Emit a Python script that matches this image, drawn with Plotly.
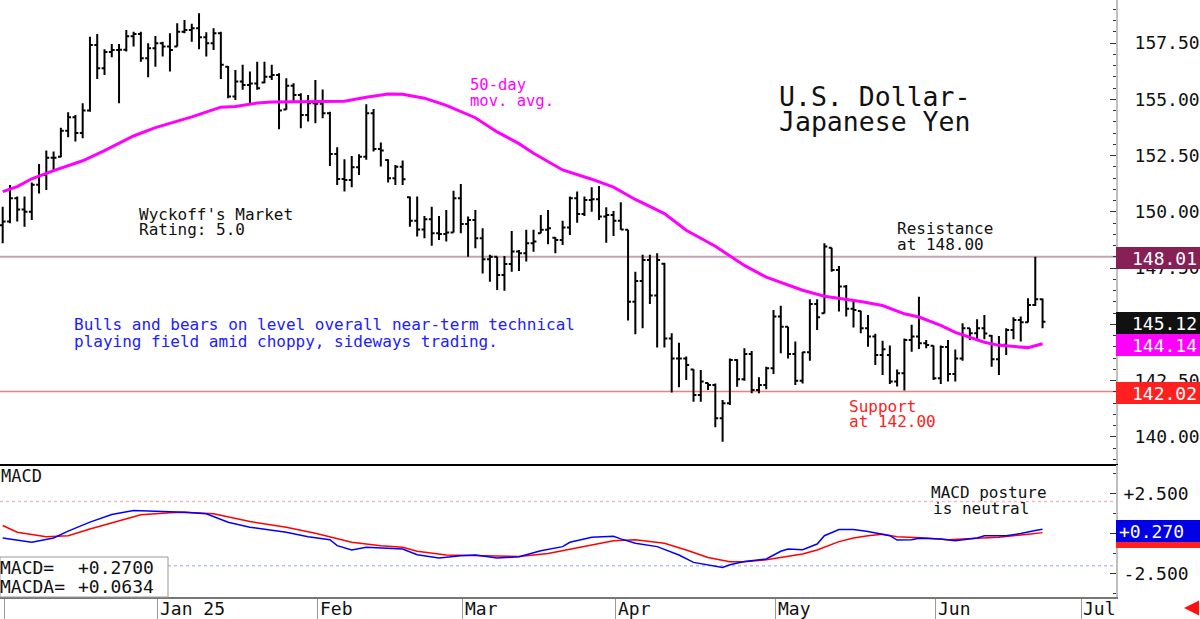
import plotly.graph_objects as go

# ---------------- data ----------------
bar_index = list(range(144))

opens = [149.40,149.57,150.60,150.10,150.00,151.20,151.64,152.40,152.45,153.60,
         154.20,153.50,154.50,157.41,156.38,157.10,157.19,157.20,157.80,157.90,
         156.82,157.27,157.49,157.34,157.35,158.00,158.08,158.15,157.76,157.49,
         157.93,156.45,155.12,155.79,155.64,155.70,155.75,156.00,156.08,154.55,
         155.60,155.19,154.30,154.82,154.80,154.38,152.57,151.46,151.42,151.98,
         152.45,154.38,152.79,152.30,151.49,152.00,150.65,149.61,149.22,149.67,
         149.05,149.02,149.08,150.60,149.46,149.64,148.83,147.90,148.01,147.19,
         147.68,148.24,148.16,148.61,149.05,149.20,148.85,148.75,149.31,150.60,
         149.90,150.53,150.56,149.79,149.86,149.60,149.20,146.01,146.93,147.86,
         146.28,147.70,144.38,143.49,143.49,143.00,141.87,142.40,142.31,140.83,
         141.50,143.42,142.56,143.69,142.09,142.31,143.05,145.35,144.90,143.69,
         142.50,143.76,145.91,145.50,148.40,147.42,146.68,145.70,145.60,144.83,
         144.46,143.64,143.64,142.46,142.83,144.31,144.46,144.16,144.05,142.61,
         144.00,142.80,143.49,144.83,144.61,144.83,144.50,143.45,144.10,144.75,
         145.20,145.10,145.86,146.12]
highs = [150.23,151.19,150.68,150.68,151.30,152.13,152.72,152.68,153.74,154.42,
         154.30,154.82,157.78,157.90,157.22,157.46,157.46,158.08,158.00,158.00,
         157.49,157.81,157.56,157.93,158.38,158.52,158.35,158.82,157.98,158.15,
         158.00,156.48,156.30,156.53,156.23,156.67,156.67,156.53,156.16,155.93,
         155.71,155.27,155.19,155.86,155.44,154.45,152.87,152.34,152.48,152.56,
         154.78,154.57,153.08,152.34,152.08,152.28,150.68,150.68,149.82,150.23,
         149.82,150.08,150.94,151.24,149.79,150.08,149.27,148.09,148.01,148.04,
         149.15,148.31,149.20,149.20,149.86,150.08,148.87,149.61,150.68,150.90,
         150.68,151.09,151.15,150.20,150.04,150.43,149.20,147.34,148.09,148.09,
         148.16,147.74,144.61,144.19,143.57,143.01,142.98,142.41,142.38,141.64,
         143.49,143.45,143.94,143.82,142.65,143.12,145.64,145.83,144.90,144.24,
         143.79,146.12,146.12,148.60,148.41,147.60,146.75,146.09,145.61,145.42,
         144.58,144.28,144.06,143.00,144.38,144.98,146.23,144.31,144.06,144.06,
         144.31,143.89,145.05,144.83,145.23,145.42,144.53,144.49,144.83,145.32,
         145.35,146.16,148.01,146.15]
lows = [148.60,149.49,149.57,149.34,149.64,150.82,150.97,151.79,152.42,153.31,
        153.12,153.27,154.45,155.90,156.08,156.87,154.82,157.12,157.34,156.67,
        155.98,156.45,156.90,156.23,157.34,157.93,157.56,157.22,156.90,157.19,
        155.90,155.05,154.97,155.42,154.75,155.42,155.71,155.86,153.67,154.53,
        154.90,153.71,154.01,153.93,154.16,152.04,151.19,150.90,151.09,151.64,
        152.31,152.68,152.01,151.30,151.19,151.19,149.34,148.90,148.83,148.49,
        148.75,148.68,149.08,149.05,148.01,148.38,147.26,146.89,146.53,146.50,
        147.34,147.37,147.79,148.23,149.05,148.56,148.16,148.53,148.97,149.52,
        149.82,150.01,149.64,148.63,148.93,149.20,145.17,144.56,144.83,145.91,
        143.98,143.98,141.98,142.21,142.53,141.57,141.57,142.09,140.43,139.79,
        141.42,142.23,142.50,141.94,141.94,142.12,142.80,143.72,143.49,142.31,
        142.38,143.39,144.75,145.49,147.34,145.57,145.35,144.86,144.61,144.01,
        143.20,142.75,142.35,142.24,142.06,143.79,143.91,143.94,142.53,142.35,
        142.46,142.46,143.39,144.31,144.31,144.34,143.12,142.75,143.64,144.34,
        144.24,145.09,145.82,144.83]
closes = [149.57,150.60,150.10,150.00,151.20,151.64,152.40,152.40,153.60,154.20,
          153.50,154.50,157.41,156.38,157.10,157.19,157.20,157.80,157.90,156.82,
          157.27,157.49,157.34,157.19,158.00,158.08,158.15,157.76,157.49,157.93,
          156.53,155.12,155.79,155.64,155.70,155.49,156.00,156.08,154.50,155.60,
          155.19,154.30,154.82,154.80,154.38,152.57,151.46,151.42,151.98,152.45,
          154.38,152.79,152.72,151.49,152.00,151.45,149.61,149.22,149.67,149.05,
          149.02,149.08,150.60,149.46,149.64,148.83,147.90,148.01,147.19,147.68,
          148.24,148.16,148.61,148.68,149.20,149.27,148.75,149.31,150.60,149.90,
          150.53,150.56,149.79,149.86,149.60,149.22,146.01,146.93,147.86,146.28,
          147.86,144.38,143.49,143.49,143.20,141.87,142.46,142.31,140.83,141.50,
          143.42,142.56,143.69,142.09,142.31,143.05,145.35,144.90,143.69,142.50,
          143.76,145.91,145.32,148.46,147.42,146.68,145.70,145.64,144.83,144.46,
          143.64,143.90,142.46,142.83,144.31,144.46,144.16,144.09,142.61,144.00,
          142.80,143.49,144.83,144.61,144.83,144.60,143.45,144.10,144.75,145.20,
          145.10,145.86,146.12,145.12]

# 50-day moving average, read at sample bars
ma_idx = [0, 2, 4, 7, 11, 14, 18, 21, 26, 30, 32, 35, 37, 41, 47, 50, 53, 55, 58, 61,
          65, 68, 71, 73, 77, 81, 84, 87, 91, 94, 98, 102, 105, 110, 113, 118, 121,
          124, 126, 129, 131, 135, 137, 141, 143]
ma_val = [150.90, 151.12, 151.47, 151.83, 152.27, 152.72, 153.37, 153.74, 154.22, 154.65,
          154.68, 154.83, 154.88, 154.90, 154.91, 155.09, 155.23, 155.22, 155.05, 154.73,
          154.18, 153.55, 153.03, 152.60, 151.86, 151.45, 151.10, 150.55, 149.92, 149.18,
          148.47, 147.62, 147.10, 146.52, 146.25, 146.02, 145.84, 145.47, 145.33, 144.96,
          144.65, 144.21, 144.07, 143.97, 144.14]

# MACD (blue) and MACDA signal (red), read at sample bars
macd_idx = [0, 4, 7, 9, 12, 15, 18, 22, 25, 28, 31, 34, 36, 39, 42, 45, 46, 48, 50, 55,
            57, 60, 63, 65, 68, 71, 74, 77, 78, 81, 84, 85, 87, 90, 93, 95, 99, 100, 102,
            105, 107, 108, 110, 112, 113, 115, 117, 119, 122, 123, 125, 126, 129, 131,
            134, 135, 138, 140, 142, 143]
macd_val = [-0.27, -0.54, -0.27, 0.15, 0.71, 1.19, 1.44, 1.38, 1.33, 1.23, 0.71, 0.40, 0.29,
            0.08, -0.19, -0.38, -0.75, -1.02, -0.85, -0.96, -1.31, -1.52, -1.38, -1.33,
            -1.52, -1.44, -1.06, -0.81, -0.54, -0.23, -0.17, -0.33, -0.60, -0.81, -1.33,
            -1.79, -2.10, -1.94, -1.73, -1.58, -1.10, -0.96, -1.00, -0.65, -0.13, 0.25,
            0.25, 0.13, -0.13, -0.40, -0.38, -0.29, -0.33, -0.44, -0.27, -0.13, -0.13,
            0.00, 0.19, 0.27]
sig_idx = [0, 2, 6, 9, 12, 16, 19, 23, 25, 29, 34, 39, 43, 48, 52, 55, 57, 61, 66, 71,
           75, 80, 84, 87, 91, 94, 97, 100, 102, 105, 110, 112, 115, 117, 119, 121, 123,
           127, 130, 134, 137, 141, 143]
sig_val = [0.50, 0.08, -0.19, -0.13, 0.29, 0.81, 1.17, 1.29, 1.33, 1.23, 0.75, 0.40, 0.02,
           -0.54, -0.75, -0.85, -1.10, -1.33, -1.38, -1.42, -1.23, -0.81, -0.44, -0.38,
           -0.60, -1.02, -1.48, -1.75, -1.75, -1.63, -1.27, -1.02, -0.50, -0.27, -0.13,
           -0.04, -0.19, -0.27, -0.38, -0.29, -0.23, -0.04, 0.06]

month_ticks = [0.3, 21.3, 43.3, 63.3, 84.3, 106.3, 128.3, 148.3]
month_labels = ["", "Jan 25", "Feb", "Mar", "Apr", "May", "Jun", "Jul"]

price_ticks = [140.0, 142.5, 145.0, 147.5, 150.0, 152.5, 155.0, 157.5]
# 145.00 sits fully behind the last-close box in the reference
price_tick_text = ["140.00", "142.50", "", "147.50", "150.00", "152.50", "155.00", "157.50"]
macd_ticks = [-2.5, 0.0, 2.5]
macd_tick_text = ["-2.500", "", "+2.500"]

resistance = 148.01
support = 142.02
last_close = 145.12
last_ma = 144.14
last_macd = 0.270
last_macda = 0.0634

# ---------------- figure ----------------
W, H = 1200, 619
ML, MR, MT, MB = 0, 84, 0, 22
PW, PH = W - ML - MR, H - MT - MB
FONT = "DejaVu Sans Mono"


def px(x):
    return x / PW


def py(y):
    return (PH - y) / PH


XR = [-0.37, 153.1]

fig = go.Figure()
fig.add_trace(go.Ohlc(
    x=bar_index, open=opens, high=highs, low=lows, close=closes,
    increasing=dict(line=dict(color="black", width=2)),
    decreasing=dict(line=dict(color="black", width=2)),
    tickwidth=0.4, xaxis="x", yaxis="y", showlegend=False, hoverinfo="skip"))
fig.add_trace(go.Scatter(x=ma_idx, y=ma_val, mode="lines", xaxis="x", yaxis="y",
                         line=dict(color="#ff00ff", width=3), showlegend=False, hoverinfo="skip"))
fig.add_trace(go.Scatter(x=sig_idx, y=sig_val, mode="lines", xaxis="x2", yaxis="y2",
                         line=dict(color="#ff0000", width=1.5), showlegend=False, hoverinfo="skip"))
fig.add_trace(go.Scatter(x=macd_idx, y=macd_val, mode="lines", xaxis="x2", yaxis="y2",
                         line=dict(color="#0000ff", width=1.5), showlegend=False, hoverinfo="skip"))

split = (PH - 464) / PH

fig.update_layout(
    width=W, height=H, margin=dict(l=ML, r=MR, t=MT, b=MB),
    paper_bgcolor="white", plot_bgcolor="white", showlegend=False,
    font=dict(family=FONT, color="#111"),
    xaxis=dict(domain=[0, 1], range=XR, anchor="y", showticklabels=False, showgrid=False,
               zeroline=False, showline=True, linecolor="black", linewidth=2, ticks="",
               rangeslider=dict(visible=False), fixedrange=True),
    yaxis=dict(domain=[split, 1], range=[138.8, 159.41], side="right", anchor="x",
               tickmode="array", tickvals=price_ticks, ticktext=price_tick_text,
               ticks="inside", ticklen=6, tickwidth=1, tickcolor="#333",
               minor=dict(tickmode="linear", tick0=140, dtick=0.5, ticks="inside",
                          ticklen=3, tickcolor="#333", showgrid=False),
               showgrid=False, zeroline=False, showline=True, linecolor="#c0c0c0", linewidth=2,
               tickfont=dict(family=FONT, size=18, color="#111"), ticklabelstandoff=13,
               fixedrange=True),
    xaxis2=dict(domain=[0, 1], range=XR, anchor="y2", showticklabels=False, showgrid=False,
                zeroline=False, showline=True, linecolor="#777", linewidth=1.5,
                tickmode="array", tickvals=month_ticks, ticks="outside", ticklen=22,
                tickwidth=1, tickcolor="#999", fixedrange=True),
    yaxis2=dict(domain=[0, split - 0.002], range=[-3.94, 4.25], side="right", anchor="x2",
                tickmode="array", tickvals=macd_ticks, ticktext=macd_tick_text,
                ticks="inside", ticklen=6, tickwidth=1, tickcolor="#333",
                minor=dict(tickmode="linear", tick0=0, dtick=1.25, ticks="inside",
                           ticklen=3, tickcolor="#333", showgrid=False),
                showgrid=False, zeroline=False, showline=True, linecolor="#c0c0c0", linewidth=2,
                tickfont=dict(family=FONT, size=18, color="#111"), ticklabelstandoff=2,
                fixedrange=True),
)

shapes = [
    dict(type="line", xref="x domain", yref="y", x0=0, x1=1, y0=resistance, y1=resistance,
         line=dict(color="#c8a2b2", width=2), layer="below"),
    dict(type="line", xref="x domain", yref="y", x0=0, x1=1, y0=support, y1=support,
         line=dict(color="#f08080", width=1.5), layer="below"),
    dict(type="line", xref="x2 domain", yref="y2", x0=0, x1=1, y0=2.0, y1=2.0,
         line=dict(color="#f4b8c0", width=1.5, dash="dot"), layer="below"),
    dict(type="line", xref="x2 domain", yref="y2", x0=0, x1=1, y0=-2.0, y1=-2.0,
         line=dict(color="#b8c0f4", width=1.5, dash="dot"), layer="below"),
    dict(type="rect", xref="paper", yref="paper", x0=px(0), x1=px(168), y0=py(597), y1=py(557),
         line=dict(color="#999", width=1), fillcolor="white", layer="above"),
]
fig.update_layout(shapes=shapes)

ann = []


def text(t, x, y, size=16, color="#111"):
    ann.append(dict(text=t, xref="paper", yref="paper", x=px(x), y=py(y), xanchor="left",
                    yanchor="middle", showarrow=False, borderpad=0, borderwidth=0,
                    font=dict(family=FONT, size=size, color=color)))


text("U.S. Dollar-", 779, 97, 26.5)
text("Japanese Yen", 779, 122, 26.5)
text("50-day", 470, 85, 15.5, "#ff00ff")
text("mov. avg.", 470, 101, 15.5, "#ff00ff")
text("Wyckoff's Market", 139, 214, 16)
text("Rating: 5.0", 139, 230, 16)
text("Bulls and bears on level overall near-term technical", 74, 325, 16, "#2020ff")
text("playing field amid choppy, sideways trading.", 74, 341, 16, "#2020ff")
text("Resistance", 897, 228, 16)
text("at 148.00", 897, 244, 16)
text("Support", 849, 406, 16, "#ff2020")
text("at 142.00", 849, 421, 16, "#ff2020")
text("MACD", 1, 476, 17)
text("MACD posture", 931, 492, 16)
text("is neutral", 933, 508, 16)
text("MACD=", 0, 567, 18)
text("+%.4f" % last_macd, 78, 567, 18)
text("MACDA=", 0, 586, 18)
text("+%.4f" % last_macda, 78, 586, 18)

# month labels under the axis
for tv, lab in zip(month_ticks, month_labels):
    if lab:
        ann.append(dict(text=lab, xref="x2", yref="paper", x=tv, y=py(608), xanchor="left",
                        yanchor="middle", showarrow=False, borderpad=0, borderwidth=0, xshift=2,
                        font=dict(family=FONT, size=18, color="#111")))


def box(val, yref, label, bg, align="right", yshift=-1.5):
    ann.append(dict(text=label, xref="paper", yref=yref, x=1, y=val, xanchor="left",
                    yanchor="middle", showarrow=False, width=78, height=16, borderpad=3,
                    borderwidth=0, bgcolor=bg, align=align, yshift=yshift,
                    font=dict(family=FONT, size=18, color="white")))


box(resistance, "y", "%.2f" % resistance, "#862055")
box(last_close, "y", "%.2f" % last_close, "#111111")
box(last_ma, "y", "%.2f" % last_ma, "#ff00ff")
box(support, "y", "%.2f" % support, "#ff2020")
box(last_macda, "y2", " ", "#ff2020", "left", -4)
box(last_macd, "y2", "+%.3f" % last_macd, "#0000e6", "left", -2)

# small red arrow bottom right
ann.append(dict(text="", xref="paper", yref="paper", x=px(1184), y=py(608), showarrow=True,
                ax=14, ay=0, arrowhead=2, arrowsize=1, arrowwidth=3, arrowcolor="#ff1010"))

fig.update_layout(annotations=ann)
fig.write_html("out.html")
